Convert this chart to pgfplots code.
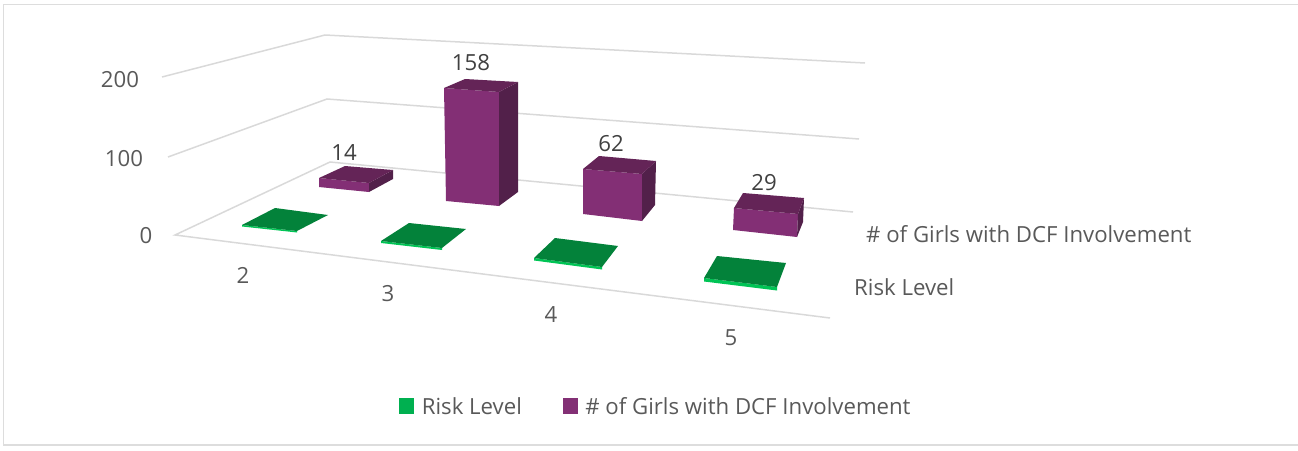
\documentclass[border=0pt]{standalone}
\usepackage{pgfplots}
\pgfplotsset{compat=1.18}
\usepackage{fontspec}
\setmainfont{Open Sans}
\definecolor{pfront}{HTML}{832F75}
\definecolor{ptop}{HTML}{642457}
\definecolor{pside}{HTML}{52204A}
\definecolor{gtop}{HTML}{03823A}
\definecolor{gfront}{HTML}{00C455}
\definecolor{gleg}{HTML}{00B050}
\definecolor{pleg}{HTML}{833075}
\definecolor{gridc}{HTML}{D9D9D9}
\definecolor{frame}{HTML}{DDDDDD}
\definecolor{txt}{HTML}{595959}
\definecolor{dl}{HTML}{404040}
\newcommand{\fs}{\fontsize{22.2}{26}\selectfont}
\begin{document}
\begin{tikzpicture}
\path[use as bounding box] (0pt,0pt) rectangle (1298pt,450pt);
\begin{axis}[
  at={(0pt,0pt)}, anchor=south west,
  scale only axis, width=1298pt, height=450pt,
  xmin=0, xmax=1298, ymin=0, ymax=450, y dir=reverse,
  hide axis, clip=true,
  legend style={at={(axis cs:656,407)}, anchor=center, draw=none, fill=none,
    font=\fs\color{txt}, legend columns=2,
    /tikz/every odd column/.append style={column sep=6pt},
    /tikz/every even column/.append style={column sep=39pt},
    inner sep=0pt},
  legend cell align=left,
  legend image code/.code={\fill[#1] (0pt,-6pt) rectangle (14pt,9pt);},
]
% chart frame
\addplot[frame, line width=1.8pt, forget plot] coordinates {(1298,4.5) (3.5,4.5) (3.5,445) (1298,445)};
% gridlines
\addplot[gridc, line width=1.5pt, forget plot] coordinates {(162,77) (325,35) (865,63)};
\addplot[gridc, line width=1.5pt, forget plot] coordinates {(168,157) (327,99) (859,139)};
\addplot[gridc, line width=1.5pt, forget plot] coordinates {(830,318) (175,235) (330,162) (853,212)};
% green bars (Risk Level)
\addplot[fill=gfront, draw=none, forget plot] coordinates {(242,225) (297,231) (297,232.5) (242,226.5)} -- cycle;
\addplot[fill=gtop, draw=none, forget plot] coordinates {(275,208) (328,215) (297,231) (242,225)} -- cycle;
\addplot[fill=gfront, draw=none, forget plot] coordinates {(381,241) (442,248) (442,250) (381,243)} -- cycle;
\addplot[fill=gtop, draw=none, forget plot] coordinates {(409,223) (466,229) (442,248) (381,241)} -- cycle;
\addplot[fill=gfront, draw=none, forget plot] coordinates {(534,258) (602,267) (602,269.5) (534,260.5)} -- cycle;
\addplot[fill=gtop, draw=none, forget plot] coordinates {(555,238) (618,246) (602,267) (534,258)} -- cycle;
\addplot[fill=gfront, draw=none, forget plot] coordinates {(704,278) (777,287) (777,290.5) (704,281.5)} -- cycle;
\addplot[fill=gtop, draw=none, forget plot] coordinates {(717,256) (786,263) (777,287) (704,278)} -- cycle;
% purple bars
\addplot[fill=pfront, draw=none, forget plot] coordinates {(319,178) (369,183) (369,192) (319,187)} -- cycle;
\addplot[fill=pside, draw=none, forget plot] coordinates {(369,183) (393,170) (393,179) (369,192)} -- cycle;
\addplot[fill=ptop, draw=none, forget plot] coordinates {(345,166) (393,170) (369,183) (319,178)} -- cycle;
\addplot[fill=pfront, draw=none, forget plot] coordinates {(444,88) (499,92) (499,206) (446,201)} -- cycle;
\addplot[fill=pside, draw=none, forget plot] coordinates {(499,92) (518,82) (518,192) (499,206)} -- cycle;
\addplot[fill=ptop, draw=none, forget plot] coordinates {(465,79) (518,82) (499,92) (444,88)} -- cycle;
\addplot[fill=pfront, draw=none, forget plot] coordinates {(583,169) (642,174) (642,221) (583,214)} -- cycle;
\addplot[fill=pside, draw=none, forget plot] coordinates {(642,174) (656,161) (655,205) (642,221)} -- cycle;
\addplot[fill=ptop, draw=none, forget plot] coordinates {(599,156) (656,161) (642,174) (583,169)} -- cycle;
\addplot[fill=pfront, draw=none, forget plot] coordinates {(734,208) (798,214) (797,237) (733,230)} -- cycle;
\addplot[fill=pside, draw=none, forget plot] coordinates {(798,214) (804,198) (803,222) (797,237)} -- cycle;
\addplot[fill=ptop, draw=none, forget plot] coordinates {(743,193) (804,198) (798,214) (734,208)} -- cycle;
% legend entries
\addlegendimage{gleg}\addlegendentry{Risk Level}
\addlegendimage{pleg}\addlegendentry{\# of Girls with DCF Involvement}
% data labels
\node[font=\fs, text=dl] at (axis cs:344,153) {14};
\node[font=\fs, text=dl] at (axis cs:471,63) {158};
\node[font=\fs, text=dl] at (axis cs:611,144) {62};
\node[font=\fs, text=dl] at (axis cs:764,183) {29};
% value axis labels
\node[font=\fs, text=txt] at (axis cs:120,80) {200};
\node[font=\fs, text=txt] at (axis cs:124,159) {100};
\node[font=\fs, text=txt] at (axis cs:146,236) {0};
% category labels
\node[font=\fs, text=txt] at (axis cs:243,275) {2};
\node[font=\fs, text=txt] at (axis cs:388,294) {3};
\node[font=\fs, text=txt] at (axis cs:551,315) {4};
\node[font=\fs, text=txt] at (axis cs:731,338) {5};
% series labels
\node[font=\fs, text=txt, anchor=west, inner sep=0pt] at (axis cs:866,234) {\# of Girls with DCF Involvement};
\node[font=\fs, text=txt, anchor=west, inner sep=0pt] at (axis cs:854,287) {Risk Level};
\end{axis}
\end{tikzpicture}
\end{document}
